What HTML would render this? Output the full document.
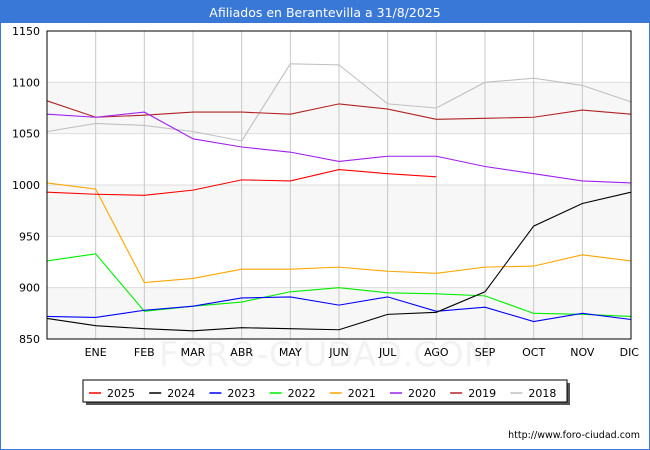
<!DOCTYPE html>
<html><head><meta charset="utf-8"><style>
body{margin:0;background:#fff;font-family:"DejaVu Sans","Liberation Sans",sans-serif}
#wrap{position:relative;width:648px;height:448px;border:1px solid #3a78d8;overflow:hidden}
#title{position:absolute;left:0;top:0;width:648px;height:22px;background:#3a78d8;color:#fff;font-size:12.5px;text-align:center;line-height:23px}
svg{position:absolute;left:0;top:0}
</style></head><body>
<div id="wrap">
<div id="title">Afiliados en Berantevilla a 31/8/2025</div>
<svg id="c" width="650" height="450"></svg>
</div>
<script>
const months=["","ENE","FEB","MAR","ABR","MAY","JUN","JUL","AGO","SEP","OCT","NOV","DIC"];
const yTicks=[850,900,950,1000,1050,1100,1150];
const seriesNames=["2025","2024","2023","2022","2021","2020","2019","2018"];
const seriesColors=["#ff0000","#000000","#0000ff","#00ee00","#ffa500","#a020f0","#b22222","#c0c0c0"];
const s2025=[993,991,990,995,1005,1004,1015,1011,1008];
const s2024=[870,863,860,858,861,860,859,874,876,896,960,982,993];
const s2023=[872,871,878,882,890,891,883,891,877,881,867,875,869];
const s2022=[926,933,877,882,886,896,900,895,894,892,875,874,872];
const s2021=[1002,996,905,909,918,918,920,916,914,920,921,932,926];
const s2020=[1069,1066,1071,1045,1037,1032,1023,1028,1028,1018,1011,1004,1002];
const s2019=[1082,1066,1068,1071,1071,1069,1079,1074,1064,1065,1066,1073,1069];
const s2018=[1052,1060,1058,1052,1043,1118,1117,1079,1075,1100,1104,1097,1081];
const allSeries=[s2025,s2024,s2023,s2022,s2021,s2020,s2019,s2018];
const NS="http://www.w3.org/2000/svg";
const svg=document.getElementById('c');
const L=46,R=630,T=30,B=338;
const x=i=>L+i*(R-L)/12;
const y=v=>B-(v-850)*(B-T)/300;
function el(t,a){const e=document.createElementNS(NS,t);for(const k in a)e.setAttribute(k,a[k]);svg.appendChild(e);return e;}
for(let i=0;i<yTicks.length-1;i++){
 if(i%2==0){const r=el('rect',{x:L,y:y(yTicks[i+1]),width:R-L,height:y(yTicks[i])-y(yTicks[i+1]),fill:'#f7f7f7'});
 
 }
}
yTicks.forEach(v=>{
 const g=el('line',{x1:L,x2:R,y1:y(v),y2:y(v),stroke:'#dddddd'});
 
 
 const t=el('text',{x:L-7,y:y(v)+4,'text-anchor':'end','font-size':'11',fill:'#000'});
 t.textContent=v;
 
 
});
months.forEach((m,i)=>{
 if(i>0){const g=el('line',{x1:x(i),x2:x(i),y1:T,y2:B,stroke:'#c8c8c8'});
 
 }
 const t=el('text',{x:x(i),y:355,'text-anchor':i==12?'end':'middle','font-size':'11',fill:'#000'});
 if(i==12)t.setAttribute('x',x(i)+8);
 t.textContent=m;
 
 
});
const wm=el('text',{x:325,y:365,'text-anchor':'middle','font-size':'34',fill:'#000','fill-opacity':'0.05'});
wm.textContent='FORO-CIUDAD.COM';


for(let k=allSeries.length-1;k>=0;k--){
 const d=allSeries[k].map((v,i)=>x(i)+','+y(v)).join(' ');
 const p=el('polyline',{points:d,fill:'none',stroke:seriesColors[k],'stroke-width':'1.1'});
 
 
}
const fr=el('rect',{x:L,y:T,width:R-L,height:B-T,fill:'none',stroke:'#000','stroke-width':'1'});


const sh=el('rect',{x:85,y:382,width:484,height:22,fill:'#555'});


const lb=el('rect',{x:82,y:379,width:484,height:22,fill:'#fff',stroke:'#000'});


seriesNames.forEach((n,k)=>{
 const lx=88+k*60.2;
 const ln=el('line',{x1:lx,x2:lx+12,y1:392,y2:392,stroke:seriesColors[k],'stroke-width':'1.5'});
 
 
 const t=el('text',{x:lx+18,y:396,'font-size':'11',fill:'#000'});
 t.textContent=n;
 
 
});
const u=el('text',{x:639,y:437,'text-anchor':'end','font-size':'9.5',fill:'#000'});
u.textContent='http://www.foro-ciudad.com';


</script>
</body></html>
